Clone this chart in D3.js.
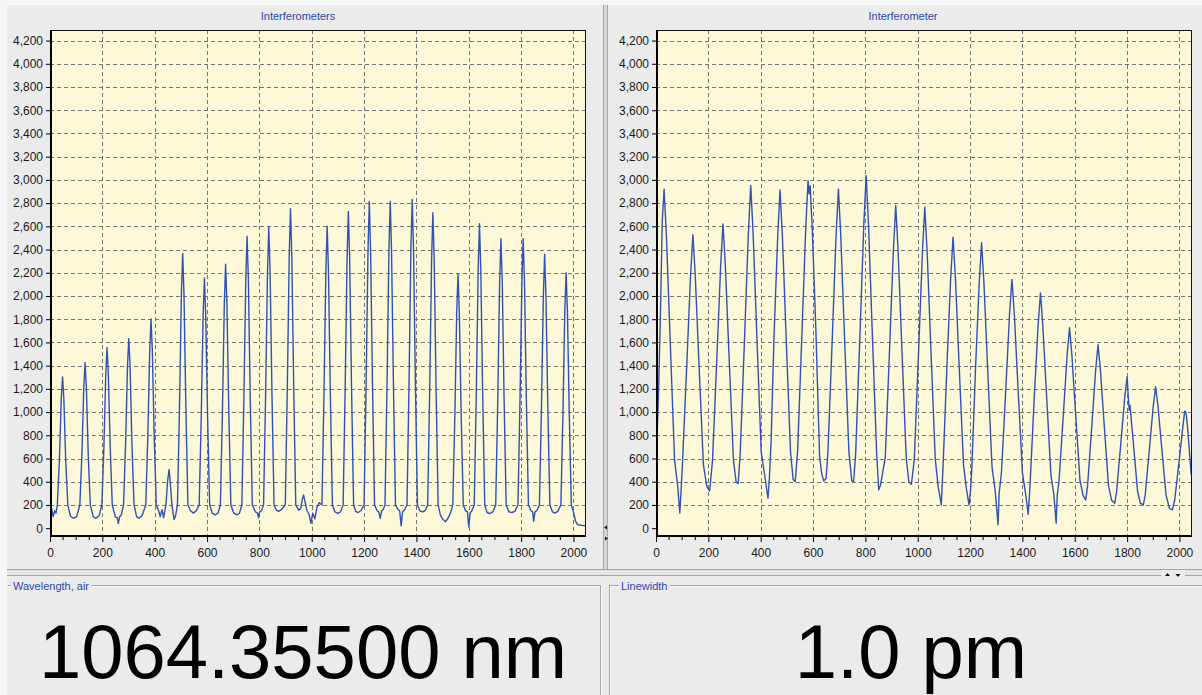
<!DOCTYPE html>
<html lang="en">
<head>
<meta charset="utf-8">
<title>Interferometers</title>
<style>
  body { margin: 0; background: #ebebeb; }
  svg { display: block; }
</style>
<script src="https://cdn.jsdelivr.net/npm/d3@7"></script>
</head>
<body>
<script>
/* signal: [pixel index, counts] */
var leftTrace = [
  [0,120],[6,170],[12,100],[18,150],[23,130],
  [28,200],[36,590],[43,1110],[48,1303],[53,1110],[60,590],[68,200],
  [78,105],[89,85],[102,100],
  [114,200],[122,640],[129,1210],[134,1427],[139,1210],[146,640],[154,200],
  [165,100],[176,85],[188,110],
  [198,200],[206,700],[213,1320],[218,1556],[223,1320],[230,700],[238,200],
  [250,95],[257,90],[261,40],[266,100],[272,110],
  [281,200],[289,735],[296,1390],[301,1633],[306,1390],[313,735],[321,200],
  [331,100],[340,85],[352,110],
  [366,200],[374,810],[381,1530],[386,1802],[391,1530],[398,810],[406,200],
  [415,150],[421,100],[428,160],[434,90],
  [443,200],[449,400],[455,506],[460,380],[466,200],
  [474,75],[480,110],
  [487,200],[495,1065],[502,2010],[507,2365],[512,2010],[519,1065],[527,200],
  [537,150],[548,130],[559,150],
  [570,200],[578,970],[585,1830],[590,2155],[595,1830],[602,970],[610,200],
  [620,130],[631,115],[642,130],
  [651,200],[659,1020],[666,1930],[671,2273],[676,1930],[683,1020],[691,200],
  [702,130],[714,115],[724,130],
  [733,200],[741,1130],[748,2140],[753,2514],[758,2140],[765,1130],[773,200],
  [785,140],[793,130],[797,90],[801,140],[808,150],
  [816,200],[824,1170],[831,2200],[836,2594],[841,2200],[848,1170],[856,200],
  [865,155],[873,145],[884,160],
  [899,200],[907,1240],[914,2340],[919,2752],[924,2340],[931,1240],[939,200],
  [950,155],[958,170],[964,250],[969,285],[974,230],[982,150],[990,120],[997,42],
  [1004,130],[1012,80],[1020,180],[1029,220],
  [1039,200],[1047,1170],[1054,2210],[1059,2600],[1064,2210],[1071,1170],[1079,200],
  [1089,140],[1100,128],[1110,140],
  [1120,200],[1128,1230],[1135,2320],[1140,2729],[1145,2320],[1152,1230],[1160,200],
  [1168,145],[1177,135],[1188,150],
  [1200,200],[1208,1270],[1215,2390],[1220,2815],[1225,2390],[1232,1270],[1240,200],
  [1250,150],[1256,140],[1262,85],[1267,150],[1273,160],
  [1280,200],[1288,1270],[1295,2390],[1300,2815],[1305,2390],[1312,1270],[1320,200],
  [1330,160],[1336,150],[1342,20],[1347,140],[1355,160],
  [1364,200],[1372,1270],[1379,2410],[1384,2832],[1389,2410],[1396,1270],[1404,200],
  [1413,150],[1423,140],[1433,150],
  [1443,200],[1451,1220],[1458,2310],[1463,2717],[1468,2310],[1475,1220],[1483,200],
  [1492,110],[1500,80],[1511,55],[1522,90],[1530,130],
  [1539,200],[1547,980],[1554,1860],[1559,2187],[1564,1860],[1571,980],[1579,200],
  [1588,150],[1595,140],[1600,10],[1605,130],[1612,150],
  [1621,200],[1629,1180],[1636,2230],[1641,2623],[1646,2230],[1653,1180],[1661,200],
  [1670,135],[1680,125],[1692,140],
  [1703,200],[1711,1120],[1718,2120],[1723,2494],[1728,2120],[1735,1120],[1743,200],
  [1754,140],[1765,135],[1776,145],
  [1788,200],[1796,1120],[1803,2120],[1808,2494],[1813,2120],[1820,1120],[1828,200],
  [1838,150],[1844,140],[1848,60],[1853,140],[1860,150],
  [1870,200],[1878,1060],[1885,2000],[1890,2359],[1895,2000],[1902,1060],[1910,200],
  [1920,140],[1929,130],[1940,145],
  [1952,200],[1960,990],[1967,1870],[1972,2201],[1977,1870],[1984,990],[1992,200],
  [2000,140],[2008,60],[2016,30],[2030,25],[2048,20]
];

var rightTrace = [
  [0,230],[3,700],[10,1200],[17,1850],[24,2650],[31,2920],[40,2506],[54,1625],[71,589],
  [83,360],[91,130],[96,330],
  [101,550],[118,1429],[132,2175],[141,2527],[150,2175],[164,1429],[181,550],
  [194,360],[205,320],
  [216,584],[233,1490],[247,2259],[256,2621],[265,2259],[279,1490],[296,584],
  [306,400],[314,385],
  [322,655],[339,1676],[353,2543],[362,2951],[371,2543],[385,1676],[402,655],
  [418,415],[428,258],[433,420],
  [440,760],[451,1660],[465,2513],[474,2914],[483,2513],[497,1660],[514,656],
  [524,420],[532,400],
  [541,662],[558,1699],[572,2579],[581,2994],[585,2880],[589,2950],[597,2579],[611,1699],[625,620],
  [633,470],[641,407],[650,430],
  [657,659],[674,1665],[688,2520],[697,2922],[706,2520],[720,1665],[737,659],
  [748,407],[755,400],
  [763,648],[780,1710],[794,2612],[803,3037],[812,2612],[826,1710],[843,648],
  [851,330],[858,370],
  [876,609],[893,1574],[907,2393],[916,2779],[925,2393],[939,1574],[956,609],
  [966,400],[976,378],
  [987,596],[1004,1560],[1018,2379],[1027,2765],[1036,2379],[1050,1560],[1067,596],
  [1078,360],[1090,200],
  [1097,543],[1112,1416],[1126,2158],[1135,2507],[1144,2158],[1158,1416],[1175,543],
  [1186,340],[1196,200],[1202,330],
  [1207,525],[1221,1384],[1235,2114],[1244,2458],[1253,2114],[1267,1384],[1284,525],
  [1296,320],[1307,30],[1311,300],
  [1320,478],[1337,1218],[1351,1847],[1360,2143],[1369,1847],[1383,1218],[1400,478],
  [1412,300],[1422,120],[1427,290],
  [1431,459],[1446,1156],[1460,1747],[1469,2026],[1478,1747],[1492,1156],[1509,459],
  [1520,290],[1529,43],[1533,280],
  [1540,411],[1557,997],[1571,1494],[1580,1728],[1589,1494],[1603,997],[1620,411],
  [1632,280],[1642,243],
  [1649,364],[1666,906],[1680,1366],[1689,1582],[1698,1366],[1712,906],[1729,364],
  [1741,240],[1753,215],
  [1760,318],[1777,756],[1791,1129],[1800,1304],[1805,1110],[1808,1017],[1811,1060],[1823,756],[1840,318],
  [1851,215],[1862,200],
  [1869,283],[1886,699],[1900,1052],[1909,1218],[1918,1052],[1932,699],[1949,283],
  [1962,170],[1973,158],
  [1982,243],[1999,583],[2013,872],[2020,1008],[2025,1000],[2031,872],[2045,458]
];

var xTicks = [0, 200, 400, 600, 800, 1000, 1200, 1400, 1600, 1800, 2000];
var yTicks = [0, 200, 400, 600, 800, 1000, 1200, 1400, 1600, 1800, 2000,
              2200, 2400, 2600, 2800, 3000, 3200, 3400, 3600, 3800, 4000, 4200];
var panelTitles = ["Interferometers", "Interferometer"];
var readoutLabels = ["Wavelength, air", "Linewidth"];
var readoutValues = ["1064.35500 nm", "1.0 pm"];

var font = "'Liberation Sans', Arial, sans-serif";
var W = 1202, H = 695;
var plotTop = 30, plotBottom = 537, plotWidth = 536;

var svg = d3.select("body").append("svg")
  .attr("width", W)
  .attr("height", H);

/* window background */
svg.append("rect").attr("width", W).attr("height", H).attr("fill", "#ebebeb");
svg.append("rect").attr("width", W).attr("height", 5).attr("fill", "#f6f6f6");
svg.append("rect").attr("width", 7).attr("height", H).attr("fill", "#f6f6f6");

var panels = [
  {x0: 50, trace: leftTrace, title: panelTitles[0], titleX: 298},
  {x0: 656, trace: rightTrace, title: panelTitles[1], titleX: 903}
];

panels.forEach(function(p, i) {
  var x = d3.scaleLinear().domain([0, 2048]).range([p.x0, p.x0 + plotWidth]);
  var y = d3.scaleLinear().domain([-76, 4291]).range([plotBottom, plotTop]);

  svg.append("text")
    .attr("x", p.titleX).attr("y", 20)
    .attr("text-anchor", "middle")
    .attr("font-family", font).attr("font-size", 11)
    .attr("fill", "#2b48a6")
    .text(p.title);

  /* plot area */
  svg.append("rect")
    .attr("x", p.x0).attr("y", plotTop)
    .attr("width", plotWidth).attr("height", plotBottom - plotTop)
    .attr("fill", "#fcf8d8");

  /* dashed grid */
  svg.append("g").selectAll("line")
    .data(xTicks.filter(function(d) { return d > 0; }))
    .enter().append("line")
    .attr("x1", function(d) { return Math.round(x(d)) + 0.5; })
    .attr("x2", function(d) { return Math.round(x(d)) + 0.5; })
    .attr("y1", plotTop).attr("y2", plotBottom)
    .attr("stroke", "#747474").attr("stroke-dasharray", "4,3");
  svg.append("g").selectAll("line")
    .data(yTicks.filter(function(d) { return d > 0; }))
    .enter().append("line")
    .attr("x1", p.x0).attr("x2", p.x0 + plotWidth)
    .attr("y1", function(d) { return Math.round(y(d)) + 0.5; })
    .attr("y2", function(d) { return Math.round(y(d)) + 0.5; })
    .attr("stroke", "#747474").attr("stroke-dasharray", "4,3");

  /* signal */
  var clipId = "clip" + i;
  svg.append("clipPath").attr("id", clipId)
    .append("rect")
    .attr("x", p.x0).attr("y", plotTop)
    .attr("width", plotWidth).attr("height", plotBottom - plotTop);
  var line = d3.line()
    .x(function(d) { return x(d[0]); })
    .y(function(d) { return y(d[1]); });
  svg.append("path")
    .datum(p.trace)
    .attr("clip-path", "url(#" + clipId + ")")
    .attr("d", line)
    .attr("fill", "none")
    .attr("stroke", "#3152b2")
    .attr("stroke-width", 1.4)
    .attr("stroke-linejoin", "round");

  /* frame */
  svg.append("rect")
    .attr("x", p.x0 + 0.5).attr("y", plotTop + 0.5)
    .attr("width", plotWidth - 1).attr("height", plotBottom - plotTop - 1)
    .attr("fill", "none").attr("stroke", "#111");
  svg.append("path")
    .attr("d", "M" + (p.x0 + 1) + "," + plotTop + "V" + (plotBottom - 1) + "H" + (p.x0 + plotWidth))
    .attr("fill", "none").attr("stroke", "#000").attr("stroke-width", 2);

  /* axes */
  var xAxis = svg.append("g")
    .attr("transform", "translate(0," + plotBottom + ")")
    .call(d3.axisBottom(x).tickValues(xTicks).tickSize(5).tickPadding(6).tickFormat(d3.format("d")));
  xAxis.select(".domain").remove();
  xAxis.selectAll("text").attr("font-family", font).attr("font-size", 12).attr("fill", "#1a1a1a");
  xAxis.selectAll("g.minor")
    .data(d3.range(50, 2048, 50).filter(function(d) { return d % 200 !== 0; }))
    .enter().append("line")
    .attr("x1", function(d) { return x(d); })
    .attr("x2", function(d) { return x(d); })
    .attr("y1", 0).attr("y2", 3)
    .attr("stroke", "#000");

  var yAxis = svg.append("g")
    .attr("transform", "translate(" + p.x0 + ",0)")
    .call(d3.axisLeft(y).tickValues(yTicks).tickSize(4).tickPadding(3).tickFormat(d3.format(",")));
  yAxis.select(".domain").remove();
  yAxis.selectAll("text").attr("font-family", font).attr("font-size", 12).attr("fill", "#1a1a1a");
});

/* splitters */
svg.append("rect").attr("x", 603).attr("y", 5).attr("width", 5).attr("height", 565).attr("fill", "#d6d6d6");
[603.5, 607.5].forEach(function(xx) {
  svg.append("line").attr("x1", xx).attr("x2", xx).attr("y1", 5).attr("y2", 570)
    .attr("stroke", "#a9a9a9");
});
svg.append("rect").attr("x", 7).attr("y", 569).attr("width", W - 7).attr("height", 7).attr("fill", "#d6d6d6");
[569.5, 571.5, 573.5, 575.5].forEach(function(yy) {
  svg.append("line").attr("x1", 7).attr("x2", W).attr("y1", yy).attr("y2", yy)
    .attr("stroke", yy === 571.5 || yy === 573.5 ? "#f4f4f4" : "#a9a9a9");
});
svg.append("path").attr("d", "M604,527.5L607,525.5V529.5Z").attr("fill", "#111");
svg.append("path").attr("d", "M608,538.5L605,536.5V540.5Z").attr("fill", "#111");
svg.append("rect").attr("x", 1161).attr("y", 570).attr("width", 24).attr("height", 7).attr("fill", "#ebebeb");
svg.append("path").attr("d", "M1167.5,573L1165,576H1170Z").attr("fill", "#111");
svg.append("path").attr("d", "M1178,577L1175.5,574H1180.5Z").attr("fill", "#111");

/* readout group boxes */
var boxes = [
  {x1: 8, x2: 601, labelX: 13, valueX: 303},
  {x1: 610, x2: W, labelX: 621, valueX: 911}
];
boxes.forEach(function(b, i) {
  var g = svg.append("g");
  g.append("line").attr("x1", b.x1).attr("x2", b.x2).attr("y1", 585.5).attr("y2", 585.5).attr("stroke", "#a6a6a6");
  g.append("line").attr("x1", b.x1).attr("x2", b.x2).attr("y1", 586.5).attr("y2", 586.5).attr("stroke", "#fbfbfb");
  var vx = i === 0 ? b.x2 : b.x1;
  g.append("line").attr("x1", vx - 0.5).attr("x2", vx - 0.5).attr("y1", 585).attr("y2", H).attr("stroke", "#a6a6a6");
  g.append("line").attr("x1", vx + 0.5).attr("x2", vx + 0.5).attr("y1", 586).attr("y2", H).attr("stroke", "#fbfbfb");
  var lbl = g.append("text")
    .attr("x", b.labelX).attr("y", 590)
    .attr("font-family", font).attr("font-size", 11)
    .attr("fill", "#2b48a6")
    .text(readoutLabels[i]);
  var bb = lbl.node().getBBox();
  g.insert("rect", "text")
    .attr("x", bb.x - 2).attr("y", 580).attr("width", bb.width + 4).attr("height", 10)
    .attr("fill", "#ebebeb");
  g.append("text")
    .attr("x", b.valueX).attr("y", 678)
    .attr("text-anchor", "middle")
    .attr("font-family", font).attr("font-size", 76)
    .attr("fill", "#000")
    .text(readoutValues[i]);
});
</script>
</body>
</html>
